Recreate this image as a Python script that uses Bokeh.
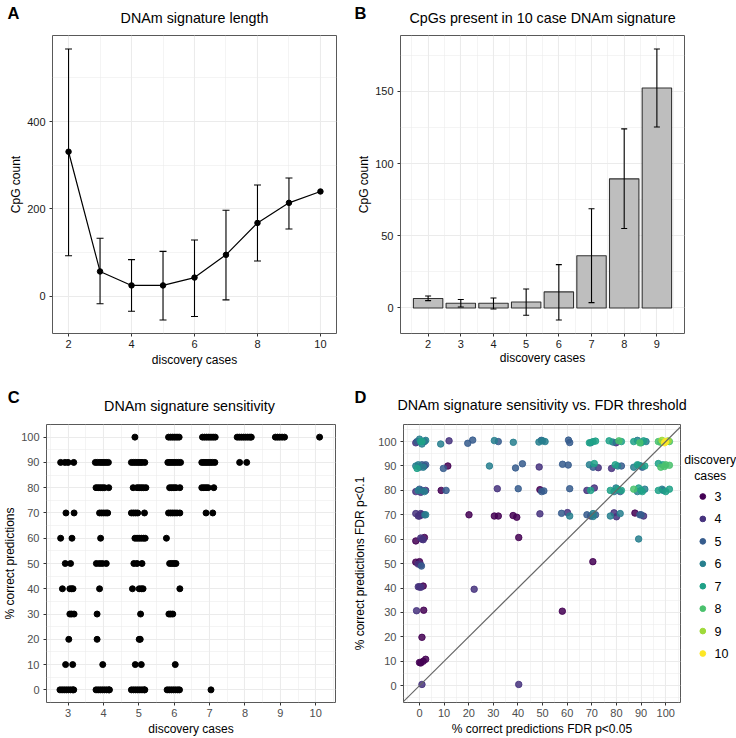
from bokeh.plotting import figure
from bokeh.models import ColumnDataSource, Whisker, TeeHead, FixedTicker, Range1d, Slope
from bokeh.core.properties import value
from bokeh.layouts import row, column
from bokeh.embed import file_html
from bokeh.resources import INLINE

FONT = "Liberation Sans"

# ---------------- data ----------------
panel_letters_top = ["A", "B"]
panel_titles_top = ["DNAm signature length", "CpGs present in 10 case DNAm signature"]
panel_letters_bottom = ["C", "D"]
panel_titles_bottom = ["DNAm signature sensitivity", "DNAm signature sensitivity vs. FDR threshold"]
legend_title_lines = ["discovery", "cases"]

# Panel A: DNAm signature length
a_cases = [2, 3, 4, 5, 6, 7, 8, 9, 10]
a_mean = [331, 57, 25, 25, 43, 95, 168, 214, 240]
a_err_cases = [2, 3, 4, 5, 6, 7, 8, 9]
a_lower = [93, -17, -34, -54, -46, -8, 81, 154]
a_upper = [566, 133, 84, 103, 129, 197, 255, 271]

# Panel B: CpGs present in 10 case DNAm signature
b_cases = [2, 3, 4, 5, 6, 7, 8, 9]
b_count = [6.5, 3.2, 3.2, 4.1, 11.1, 36.2, 89.4, 152.3]
b_lower = [5.1, 0.7, -0.7, -5.1, -8.3, 3.7, 55.0, 125.3]
b_upper = [8.3, 5.8, 6.9, 13.1, 30.0, 68.7, 124.0, 179.3]

# Panel C: DNAm signature sensitivity (jittered discovery cases, % correct)
c_rows = {
    100: [4.89, 5.84, 5.90, 5.96, 6.02, 6.08, 6.14, 6.80, 6.86, 6.92, 6.98, 7.04, 7.10, 7.16,
          7.78, 7.84, 7.90, 7.96, 8.02, 8.08, 8.14, 8.18, 8.86, 8.92, 8.98, 9.05, 9.12, 10.11],
    90: [2.79, 2.91, 3.00, 3.16, 3.77, 3.83, 3.90, 3.96, 4.02, 4.08, 4.14, 4.79, 4.85, 4.91,
         4.97, 5.03, 5.09, 5.17, 5.82, 5.88, 5.94, 6.00, 6.06, 6.12, 6.18, 6.78, 6.84, 6.90,
         6.96, 7.02, 7.08, 7.15, 7.85, 8.05],
    80: [3.79, 3.85, 3.91, 3.97, 4.03, 4.15, 4.84, 4.95, 5.01, 5.07, 5.13, 5.20, 5.87, 5.93,
         5.99, 6.05, 6.16, 6.78, 6.84, 6.90, 6.96, 7.12],
    70: [2.94, 3.17, 3.89, 3.95, 4.01, 4.07, 4.12, 4.79, 4.85, 4.91, 4.97, 5.16, 5.84, 5.90,
         5.96, 6.02, 6.08, 6.16, 6.90, 7.09],
    60: [2.79, 3.11, 3.92, 4.89, 4.95, 5.01, 5.07, 5.13, 5.18, 5.78],
    50: [2.92, 3.07, 3.80, 3.89, 3.97, 4.08, 4.86, 4.95, 5.09, 5.87, 5.93, 5.99, 6.05],
    40: [2.84, 3.05, 3.10, 3.14, 3.89, 4.82, 5.01, 5.07, 5.12, 6.16],
    30: [3.05, 3.10, 3.17, 3.82, 5.05, 5.85, 5.90, 5.96],
    20: [3.02, 3.82, 5.01, 5.04],
    10: [2.93, 3.13, 3.98, 4.90, 5.07, 6.03],
    0: [2.77, 2.83, 2.89, 2.95, 3.01, 3.07, 3.13, 3.16, 3.79, 3.85, 3.91, 3.97, 4.03, 4.09,
        4.15, 4.17, 4.79, 4.85, 4.91, 4.97, 5.03, 5.09, 5.15, 5.17, 5.80, 5.86, 5.92, 5.98,
        6.04, 6.10, 6.15, 7.04],
}
c_x = [x for yv, xs in c_rows.items() for x in xs]
c_y = [yv for yv, xs in c_rows.items() for x in xs]

# Panel D: sensitivity FDR p<0.05 (x) vs FDR p<0.1 (y), coloured by discovery cases
d_points = [
    # y ~ 100
    (-1.0, 100, 5), (0.0, 101, 6), (1.0, 99, 6), (2.0, 100, 5), (0.5, 100, 7), (-1.5, 99.5, 4),
    (2.5, 100.5, 6), (1.0, 100, 7), (8.6, 99, 6), (12.0, 100.3, 4), (19.6, 99.3, 5),
    (21.6, 100.6, 5), (30.4, 100.4, 6), (32.0, 100, 5), (38.1, 99.7, 6), (48.5, 99.8, 6),
    (49.5, 100.5, 5), (51.0, 100, 6), (50.0, 100.3, 6), (60.5, 100.6, 5), (61.0, 99.6, 5),
    (69.5, 99.5, 6), (70.5, 100, 7), (71.5, 100.2, 7), (69.0, 99.5, 7), (77.0, 100.3, 7),
    (78.5, 99.8, 6), (79.8, 99.5, 4), (81.0, 100.3, 8), (82.0, 100, 7), (87.0, 100, 7),
    (88.5, 100.5, 6), (90.0, 99.5, 7), (91.0, 100.3, 7), (89.5, 99.5, 8), (92.0, 100, 6),
    (97.0, 100, 8), (98.0, 99.7, 8), (101.5, 100, 8), (98.5, 100.5, 9), (101.0, 100.3, 9),
    (100.0, 100, 10), (99.5, 99.5, 10),
    # y ~ 90
    (-1.5, 90, 6), (0.0, 89.5, 5), (1.0, 90.5, 5), (2.0, 90, 4), (-0.5, 90.5, 6), (1.5, 89.5, 6),
    (2.5, 90.5, 5), (-1.0, 89, 7), (9.7, 89, 5), (11.5, 90, 3), (28.4, 90, 6), (39.0, 89.2, 5),
    (41.8, 90.9, 5), (48.6, 89.6, 4), (58.1, 90.7, 5), (60.4, 90.4, 5), (69.0, 90.5, 6),
    (70.5, 89.5, 5), (71.0, 91, 7), (72.6, 89.3, 4), (78.0, 89, 4), (79.5, 90.5, 7),
    (80.5, 90, 6), (82.0, 90, 5), (87.0, 89.5, 6), (88.5, 90.5, 7), (90.0, 90, 6),
    (91.5, 90, 7), (90.5, 89.5, 5), (89.0, 90.3, 6), (97.0, 91, 7), (98.8, 90.5, 7),
    (98.0, 89.5, 8), (100.0, 90.5, 8), (101.5, 90.3, 8), (99.5, 89.8, 8),
    # y ~ 80
    (-1.5, 79.5, 4), (0.0, 80.5, 5), (1.0, 80, 5), (2.0, 79.5, 6), (-0.5, 80, 6), (0.5, 79.2, 4),
    (2.5, 80, 4), (8.8, 80, 3), (10.8, 80, 5), (31.6, 80.7, 4), (40.1, 80.7, 5), (48.9, 80.3, 3),
    (49.6, 79.5, 5), (50.5, 79.8, 5), (61.0, 80.7, 5), (68.0, 80, 4), (69.5, 80, 7),
    (71.0, 81, 4), (77.5, 80, 7), (79.0, 79.5, 6), (80.5, 80.5, 7), (81.5, 79.5, 5),
    (79.8, 81, 6), (82.0, 80, 7), (87.0, 80.5, 8), (88.5, 79.5, 6), (90.0, 80, 7),
    (91.5, 80.5, 6), (90.5, 79.5, 7), (89.0, 81, 7), (97.0, 80, 7), (98.5, 80.5, 6),
    (100.0, 79.5, 7), (101.5, 80.5, 7), (99.0, 80, 6),
    # y ~ 70
    (-1.5, 70.5, 4), (0.0, 69.5, 4), (1.0, 70, 3), (0.5, 70.5, 4), (-0.5, 69.5, 4), (2.0, 70, 5),
    (2.5, 70, 6), (20.1, 70, 3), (30.4, 69.5, 3), (32.0, 69.5, 3), (38.0, 69.7, 3),
    (39.5, 69.0, 3), (48.9, 70.4, 4), (57.7, 70.6, 5), (60.1, 70.9, 4), (61.0, 69.5, 6),
    (68.0, 70, 5), (69.5, 69.5, 4), (70.5, 70.5, 6), (71.5, 70, 5), (70.5, 69.3, 6),
    (77.5, 69.5, 6), (79.0, 70.8, 4), (80.0, 69.2, 4), (81.5, 70.5, 6), (87.5, 70.7, 3),
    (89.5, 70, 5), (91.0, 69.5, 4), (90.0, 70, 5),
    # y ~ 60
    (-1.5, 59.3, 3), (0.5, 60.5, 4), (1.0, 60, 4), (1.5, 59.8, 4), (2.0, 60.7, 3),
    (40.3, 60.7, 3), (89.0, 60.1, 6),
    # y ~ 50
    (-1.5, 50.6, 3), (0.0, 50.8, 3), (-0.5, 49.8, 4), (0.5, 49.5, 4), (0.8, 49, 5),
    (70.4, 50.8, 3),
    # y ~ 40
    (-0.5, 40.5, 4), (0.5, 40.3, 4), (1.5, 40.8, 3), (0.0, 40.5, 4), (22.2, 39.5, 4),
    # y ~ 30
    (-1.2, 30.7, 4), (1.7, 30.9, 3), (58.0, 30.5, 3),
    # y ~ 20
    (1.0, 19.8, 3),
    # y ~ 10
    (0.0, 9.5, 3), (0.5, 9.3, 3), (1.5, 10.0, 3), (2.5, 10.8, 3),
    # y ~ 0
    (1.0, 0.5, 4), (40.3, 0.5, 4),
]
d_x = [p[0] for p in d_points]
d_y = [p[1] for p in d_points]
d_case = [p[2] for p in d_points]
d_levels = [3, 4, 5, 6, 7, 8, 9, 10]
d_colors = ["#440154", "#46337E", "#365C8D", "#277F8E", "#1FA187", "#4AC16D", "#9FDA3A", "#FDE725"]

# ---------------- layout geometry (pixels) ----------------
LEFT_W, RIGHT_W = 350, 386
LEG_W = 55
STRIP1_H, STRIP2_H = 32, 50
ROW1_H, ROW2_H = 369 - STRIP1_H, 369 - STRIP2_H
R1_T, R1_B = 3, 36      # shared top/bottom borders of row 1 (frames aligned)
R2_T, R2_B = 5, 36      # shared top/bottom borders of row 2


# ---------------- helpers ----------------
def make_fig(w, h, left, right, top, bottom, xr, yr):
    p = figure(width=w, height=h, output_backend="svg", toolbar_location=None,
               x_range=Range1d(*xr), y_range=Range1d(*yr),
               min_border_left=left, min_border_right=right,
               min_border_top=top, min_border_bottom=bottom)
    p.title.visible = False
    p.background_fill_color = "white"
    p.border_fill_color = "white"
    p.outline_line_color = "#595959"
    p.outline_line_width = 1
    return p


def blank_fig(w, h, top=0, bottom=0):
    fh = h - top - bottom
    s = figure(width=w, height=h, output_backend="svg",
               toolbar_location=None, x_range=Range1d(0, w), y_range=Range1d(fh, 0),
               x_axis_type=None, y_axis_type=None,
               min_border_left=0, min_border_right=0, min_border_top=top,
               min_border_bottom=bottom)
    s.title.visible = False
    s.outline_line_color = None
    s.background_fill_color = "white"
    s.border_fill_color = "white"
    s.grid.visible = False
    return s


def style_axes(p, xt, xm, yt, ym, xlabel, ylabel, tick_color, xstand=1, ystand=1):
    p.xaxis.ticker = FixedTicker(ticks=xt, minor_ticks=xm)
    p.yaxis.ticker = FixedTicker(ticks=yt, minor_ticks=ym)
    p.xaxis.axis_label = xlabel
    p.yaxis.axis_label = ylabel
    for ax in p.axis:
        ax.axis_line_color = None
        ax.major_tick_line_color = "#333333"
        ax.major_tick_out = 3
        ax.major_tick_in = 0
        ax.minor_tick_line_color = None
        ax.major_label_text_font = FONT
        ax.major_label_text_font_size = "11px"
        ax.major_label_text_color = tick_color
        ax.major_label_standoff = 3
        ax.axis_label_text_font = FONT
        ax.axis_label_text_font_size = "12px"
        ax.axis_label_text_font_style = "normal"
        ax.axis_label_text_color = "black"
    p.xaxis.major_label_standoff = 2
    p.xaxis.axis_label_standoff = xstand
    p.yaxis.axis_label_standoff = ystand
    p.grid.grid_line_color = "#EBEBEB"
    p.grid.grid_line_width = 1.1
    p.grid.minor_grid_line_color = "#EBEBEB"
    p.grid.minor_grid_line_width = 0.55


def header_strip(height, letters, letter_x, letter_y, titles, title_x, title_y):
    s = blank_fig(LEFT_W + RIGHT_W, height)
    s.text(x=letter_x, y=letter_y, text=letters, text_font=value(FONT),
           text_font_size=value("16.5px"), text_font_style="bold", text_color="black",
           text_align="center", text_baseline="middle")
    s.text(x=title_x, y=title_y, text=titles, text_font=value(FONT),
           text_font_size=value("14.3px"), text_color="black",
           text_align="center", text_baseline="middle")
    return s


# ---------------- Panel A ----------------
A_L, A_R = 52, 14
pA = make_fig(LEFT_W, ROW1_H, A_L, A_R, R1_T, R1_B, (1.49, 10.51), (-85, 597))
style_axes(pA, [2, 4, 6, 8, 10], [3, 5, 7, 9], [0, 200, 400], [-100, 100, 300, 500],
           "discovery cases", "CpG count", "#1a1a1a", xstand=2)
srcAe = ColumnDataSource(dict(x=a_err_cases, lo=a_lower, up=a_upper))
wA = Whisker(source=srcAe, base="x", lower="lo", upper="up", line_color="black", line_width=1.1,
             upper_head=TeeHead(size=7, line_color="black", line_width=1.1),
             lower_head=TeeHead(size=7, line_color="black", line_width=1.1))
wA.level = "glyph"
pA.add_layout(wA)
pA.line(a_cases, a_mean, line_color="black", line_width=1.2)
pA.scatter(a_cases, a_mean, size=5.5, fill_color="black", line_color="black")

# ---------------- Panel B ----------------
B_L, B_R = 50, 52
pB = make_fig(RIGHT_W, ROW1_H, B_L, B_R, R1_T, R1_B, (1.155, 9.845), (-17.7, 188.7))
style_axes(pB, b_cases, [1.5 + i for i in range(9)], [0, 50, 100, 150], [25, 75, 125, 175],
           "discovery cases", "CpG count", "#1a1a1a", xstand=0)
pB.vbar(x=b_cases, top=b_count, bottom=0, width=0.9, fill_color="#BEBEBE",
        line_color="#333333", line_width=1.1)
srcBe = ColumnDataSource(dict(x=b_cases, lo=b_lower, up=b_upper))
wB = Whisker(source=srcBe, base="x", lower="lo", upper="up", line_color="black", line_width=1.1,
             upper_head=TeeHead(size=6, line_color="black", line_width=1.1),
             lower_head=TeeHead(size=6, line_color="black", line_width=1.1))
wB.level = "overlay"
pB.add_layout(wB)

# ---------------- Panel C ----------------
C_L, C_R = 43, 15
pC = make_fig(LEFT_W, ROW2_H, C_L, C_R, R2_T, R2_B, (2.39, 10.56), (-5, 105))
style_axes(pC, [3, 4, 5, 6, 7, 8, 9, 10], [2.5 + i for i in range(9)],
           list(range(0, 101, 10)), list(range(5, 100, 10)),
           "discovery cases", "% correct predictions", "#4D4D4D", xstand=2)
pC.scatter(c_x, c_y, size=6, fill_color="black", line_color="black")

# ---------------- Panel D ----------------
D_W = RIGHT_W - LEG_W
D_L, D_R = 53, 1
pD = make_fig(D_W, ROW2_H, D_L, D_R, R2_T, R2_B, (-6.5, 106.0), (-6.9, 107.0))
style_axes(pD, list(range(0, 101, 10)), list(range(-5, 106, 10)),
           list(range(0, 101, 10)), list(range(-5, 106, 10)),
           "% correct predictions FDR p<0.05", "% correct predictions FDR p<0.1", "#4D4D4D",
           xstand=2, ystand=8)
for lev, col in zip(d_levels, d_colors):
    xs = [x for x, c in zip(d_x, d_case) if c == lev]
    ys = [y for y, c in zip(d_y, d_case) if c == lev]
    pD.scatter(xs, ys, size=6.5, fill_color=col, line_color=col, fill_alpha=0.85,
               line_alpha=0.85)
pD.add_layout(Slope(gradient=1, y_intercept=0, line_color="#666666", line_width=1.2))

# legend for D, drawn on its own small canvas right of panel D (y measured from frame top)
pL = blank_fig(LEG_W, ROW2_H, top=R2_T, bottom=R2_B)
leg_y = [72 + 22.43 * i for i in range(len(d_levels))]
pL.scatter(x=[21.3] * len(d_levels), y=leg_y, size=5.7, fill_color=d_colors, line_color=d_colors)
pL.text(x=[33] * len(d_levels), y=leg_y, text=[str(v) for v in d_levels], text_font=value(FONT),
        text_font_size=value("12.5px"), text_color="black", text_align="left",
        text_baseline="middle")
pL.text(x=[28.7, 28.7], y=[35.7, 51.3], text=legend_title_lines, text_font=value(FONT),
        text_font_size=value("12.3px"), text_color="black", text_align="center",
        text_baseline="middle")

# ---------------- header strips (panel letters + titles) ----------------
A_fw = LEFT_W - A_L - A_R
B_fw = RIGHT_W - B_L - B_R
C_fw = LEFT_W - C_L - C_R
D_fw = D_W - D_L - D_R
strip1 = header_strip(STRIP1_H, panel_letters_top, [13.0, 360.0], [12.5, 12.5],
                      panel_titles_top,
                      [A_L + A_fw / 2, LEFT_W + B_L + B_fw / 2], [17.6, 17.7])
strip2 = header_strip(STRIP2_H, panel_letters_bottom, [13.3, 360.0], [27.7, 27.7],
                      panel_titles_bottom,
                      [C_L + C_fw / 2, LEFT_W + D_L + D_fw / 2], [36.1, 35.4])

layout = column(strip1, row(pA, pB), strip2, row(pC, pD, pL))
open("out.html", "w").write(file_html(layout, INLINE))
